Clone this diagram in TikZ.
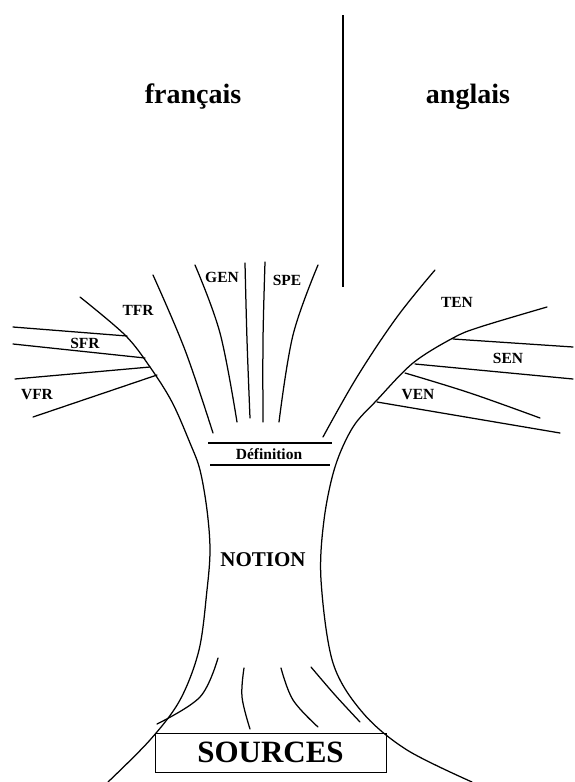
\documentclass[tikz,border=0pt]{standalone}
\usepackage{fontspec}
\setmainfont{Liberation Serif}
\begin{document}
\begin{tikzpicture}[x=1pt,y=-1pt,line width=1.25pt,
  lbl/.style={font=\bfseries\fontsize{15.5}{17}\selectfont,inner sep=0pt},
  lang/.style={font=\bfseries\fontsize{28}{30}\selectfont,inner sep=0pt},
  curve/.style={line cap=round}]
\useasboundingbox (0,0) rectangle (574,782);
% divider
\coordinate (dtop) at (343,15);
\coordinate (dbot) at (343,287);
\draw[line width=1.3pt] (dtop) -- (dbot);
\node[lang] (fr) at (193,97) {français};
\node[lang] (en) at (468,97) {anglais};
% outer boundaries
\draw[curve] plot[smooth,tension=0.55] coordinates {(80,297) (125,335) (150,367) (172,402) (190,443) (200,470) (207,510) (210,550) (207,590) (199,650) (180,700) (150,740) (108,782)};
\draw[curve] plot[smooth,tension=0.55] coordinates {(547,307) (480,327) (453,338) (413,363) (377,400) (353,427) (335,467) (324,520) (321,580) (333,663) (363,713) (407,750) (472,782)};
% left branches
\draw[curve] (13,327) -- (127,336);
\draw[curve] (13,344) -- (145,358);
\draw[curve] (15,379) -- (150,367);
\draw[curve] (33,417) -- (157,375);
\node[lbl] (sfr) at (85,343) {SFR};
\node[lbl] (vfr) at (37,395) {VFR};
\node[lbl] (tfr) at (138,310) {TFR};
% inner top lines
\draw[curve] plot[smooth,tension=0.6] coordinates {(153,275) (185,350) (213,433)};
\draw[curve] plot[smooth,tension=0.6] coordinates {(195,265) (220,333) (237,422)};
\draw[curve] plot[smooth,tension=0.6] coordinates {(245,263) (247,340) (250,418)};
\draw[curve] plot[smooth,tension=0.6] coordinates {(265,262) (263,340) (263,422)};
\draw[curve] plot[smooth,tension=0.6] coordinates {(318,265) (293,335) (279,422)};
\node[lbl] (gen) at (222,277) {GEN};
\node[lbl] (spe) at (287,280) {SPE};
% right inner line
\draw[curve] plot[smooth,tension=0.6] coordinates {(435,270) (397,317) (357,377) (323,437)};
\node[lbl] (ten) at (457,302) {TEN};
% right branches
\draw[curve] (453,339) -- (573,347);
\draw[curve] (415,364) -- (573,379);
\draw[curve] plot[smooth,tension=0.6] coordinates {(405,373) (470,393) (540,418)};
\draw[curve] (377,402) -- (560,433);
\node[lbl] (sen) at (508,358) {SEN};
\node[lbl] (ven) at (418,395) {VEN};
% definition
\coordinate (d1) at (208,443); \coordinate (d2) at (332,443);
\coordinate (d3) at (210,465); \coordinate (d4) at (330,465);
\draw (d1) -- (d2);
\draw (d3) -- (d4);
\node[font=\bfseries\fontsize{15.5}{17}\selectfont,inner sep=0pt] (def) at (269,454) {Définition};
\node[font=\bfseries\fontsize{21}{24}\selectfont,inner sep=0pt] (notion) at (263,560) {NOTION};
% source lines
\draw[curve] plot[smooth,tension=0.6] coordinates {(218,658) (200,697) (157,724)};
\draw[curve] plot[smooth,tension=0.6] coordinates {(244,668) (242,697) (250,729)};
\draw[curve] plot[smooth,tension=0.6] coordinates {(281,668) (293,700) (318,727)};
\draw[curve] plot[smooth,tension=0.6] coordinates {(311,667) (335,695) (360,722)};
% sources box
\node[draw,line width=1pt,minimum width=231pt,minimum height=39pt,inner sep=0pt,
  font=\bfseries\fontsize{31}{33}\selectfont] (src) at (270.5,752.5) {SOURCES};
\end{tikzpicture}
\end{document}
